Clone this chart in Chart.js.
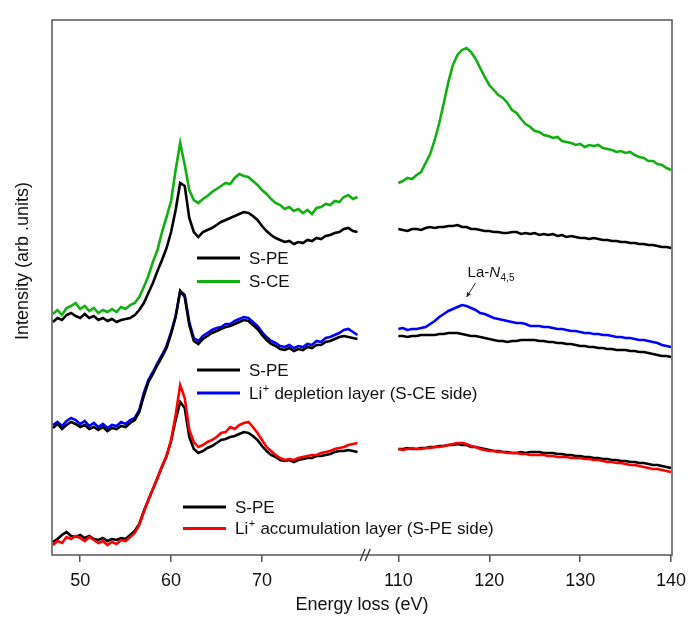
<!DOCTYPE html>
<html>
<head>
<meta charset="utf-8">
<script src="https://cdn.jsdelivr.net/npm/chart.js@4.4.1/dist/chart.umd.min.js"></script>
<style>
  html, body { margin: 0; padding: 0; background: #fff; }
  canvas { display: block; }
</style>
</head>
<body>
<canvas id="eels" width="688" height="624"></canvas>
<script>
// energy loss (eV) for the low-loss window and the La-N window
const energyLow = [
  47, 47.5, 48, 48.5, 49, 49.5, 50, 50.5, 51, 51.5,
  52, 52.5, 53, 53.5, 54, 54.5, 55, 55.5, 56, 56.5,
  57, 57.5, 58, 58.5, 59, 59.5, 60, 60.5, 61, 61.5,
  62, 62.5, 63, 63.5, 64, 64.5, 65, 65.5, 66, 66.5,
  67, 67.5, 68, 68.5, 69, 69.5, 70, 70.5, 71, 71.5,
  72, 72.5, 73, 73.5, 74, 74.5, 75, 75.5, 76, 76.5,
  77, 77.5, 78, 78.5, 79, 79.5, 80, 80.5
];
const energyHigh = [
  110, 110.5, 111, 111.5, 112, 112.5, 113, 113.5, 114, 114.5,
  115, 115.5, 116, 116.5, 117, 117.5, 118, 118.5, 119, 119.5,
  120, 120.5, 121, 121.5, 122, 122.5, 123, 123.5, 124, 124.5,
  125, 125.5, 126, 126.5, 127, 127.5, 128, 128.5, 129, 129.5,
  130, 130.5, 131, 131.5, 132, 132.5, 133, 133.5, 134, 134.5,
  135, 135.5, 136, 136.5, 137, 137.5, 138, 138.5, 139, 139.5,
  140
];

// tick labels shown on the broken axis
const tickLabels = [50, 60, 70, 110, 120, 130, 140];

// top pair: S-PE vs S-CE (arb. units, offset)
const speTopLow = [
  233, 237, 235, 240, 242, 239, 237, 241, 237, 239,
  235, 237, 234, 236, 233, 235, 236, 237, 240, 245,
  252, 262, 272, 284, 295, 307, 323, 345, 372, 369,
  337, 323, 318, 323, 325, 327, 330, 333, 335, 337,
  339, 341, 343, 342, 339, 335, 329, 324, 320, 317,
  315, 313, 314, 311, 313, 312, 315, 314, 317, 316,
  319, 320, 322, 323, 326, 327, 324, 323
];
const speTopHigh = [
  326, 325, 324, 326, 326, 325, 327, 328, 327, 328,
  328, 329, 329, 330, 328, 328, 326, 326, 325, 324,
  324, 323, 323, 322, 322, 323, 323, 321, 322, 321,
  322, 320, 321, 320, 321, 319, 320, 318, 319, 318,
  317, 317, 316, 317, 316, 315, 315, 314, 314, 313,
  313, 312, 312, 311, 311, 310, 310, 309, 308, 308,
  307
];
const sceLow = [
  241, 245, 240, 247, 249, 252, 246, 249, 244, 247,
  242, 245, 243, 246, 243, 248, 246, 250, 252, 258,
  268, 279, 293, 305, 323, 338, 354, 385, 412, 390,
  365, 355, 352, 356, 359, 363, 366, 369, 372, 371,
  377, 381, 379, 378, 374, 370, 365, 361, 356, 352,
  350, 346, 348, 344, 346, 342, 345, 341, 347, 348,
  351, 350, 354, 353, 358, 360, 356, 358
];
const sceHigh = [
  372, 374, 377, 376, 380, 383, 392, 401, 415, 432,
  452, 473, 490, 500, 505, 507, 503, 496, 487, 478,
  470, 465, 460, 457, 452, 445, 442, 436, 431, 428,
  424, 423, 420, 419, 417, 418, 414, 413, 412, 410,
  411, 408, 410, 409, 410, 407, 406, 405, 403, 404,
  402, 403, 400, 398, 397, 394, 394, 391, 390, 387,
  385
];

// middle pair: S-PE vs Li+ depletion layer
const speMidLow = [
  127, 131, 126, 130, 133, 131, 128, 130, 126, 128,
  125, 128, 124, 127, 126, 129, 128, 132, 135, 143,
  159, 173, 181, 190, 198, 207, 221, 238, 264, 258,
  230, 214, 211, 216, 219, 222, 224, 226, 228, 229,
  231, 233, 235, 234, 230, 226, 220, 215, 211, 209,
  206, 205, 207, 204, 206, 205, 208, 207, 210, 210,
  213, 214, 216, 218, 219, 218, 217, 216
];
const speMidHigh = [
  219, 219, 218, 219, 219, 220, 220, 220, 220, 221,
  221, 222, 222, 222, 221, 220, 219, 219, 218, 217,
  216, 215, 214, 214, 213, 214, 214, 215, 215, 215,
  215, 214, 214, 213, 213, 212, 212, 211, 211, 210,
  209, 209, 208, 208, 207, 207, 206, 206, 205, 205,
  205, 204, 204, 203, 203, 202, 201, 200, 199, 199,
  198
];
const depletionLow = [
  130, 133, 129, 134, 137, 135, 131, 134, 129, 132,
  128, 131, 127, 130, 129, 133, 131, 135, 137, 145,
  162, 175, 183, 192, 200, 209, 223, 239, 264, 260,
  233, 217, 214, 219, 222, 225, 227, 228, 231, 231,
  234, 236, 238, 237, 233, 229, 223, 218, 214, 212,
  209, 208, 210, 207, 209, 208, 211, 210, 214, 213,
  217, 218, 220, 222, 225, 226, 223, 220
];
const depletionHigh = [
  226, 227, 225, 226, 226, 227, 228, 231, 234, 238,
  241, 244, 246, 248, 250, 249, 247, 245, 242, 241,
  239, 237, 236, 235, 234, 233, 232, 232, 231, 229,
  229, 229, 228, 228, 227, 226, 226, 225, 224, 224,
  223, 222, 222, 221, 221, 220, 220, 219, 218, 218,
  217, 217, 216, 215, 215, 214, 213, 212, 210, 209,
  208
];

// bottom pair: S-PE vs Li+ accumulation layer
const speBotLow = [
  13, 16, 20, 23, 19, 18, 20, 17, 19, 16,
  15, 17, 14, 16, 15, 17, 16, 20, 24, 31,
  44, 55, 66, 77, 88, 99, 114, 135, 153, 147,
  118, 106, 102, 104, 107, 109, 112, 115, 116, 118,
  119, 121, 123, 122, 119, 115, 109, 104, 100, 98,
  95, 94, 95, 93, 95, 96, 97, 97, 99, 99,
  100, 101, 103, 104, 104, 105, 104, 103
];
const speBotHigh = [
  106, 106, 107, 106, 106, 107, 107, 108, 108, 109,
  109, 110, 110, 111, 110, 110, 108, 108, 107, 106,
  105, 104, 104, 103, 103, 102, 102, 103, 102, 103,
  103, 103, 102, 102, 102, 101, 101, 100, 100, 99,
  99, 98, 98, 97, 97, 96, 96, 95, 95, 94,
  94, 93, 93, 92, 92, 91, 90, 90, 89, 88,
  87
];
const accumulationLow = [
  10, 14, 12, 18, 16, 19, 17, 14, 18, 15,
  12, 14, 10, 13, 11, 15, 14, 18, 22, 30,
  43, 55, 66, 77, 89, 99, 115, 140, 170, 157,
  125, 113, 108, 110, 113, 115, 118, 122, 123, 128,
  126, 130, 132, 133, 128, 122, 115, 108, 104, 100,
  97, 95, 96, 95, 97, 98, 99, 100, 100, 102,
  103, 104, 106, 107, 108, 110, 111, 112
];
const accumulationHigh = [
  106, 105, 106, 107, 106, 106, 107, 107, 108, 108,
  109, 110, 111, 112, 112, 111, 109, 108, 106, 105,
  104, 104, 103, 103, 102, 102, 102, 101, 101, 100,
  100, 100, 100, 99, 99, 98, 98, 98, 97, 97,
  97, 96, 96, 95, 95, 94, 93, 93, 92, 92,
  91, 90, 90, 89, 88, 87, 86, 86, 85, 84,
  83
];

// the axis skips 81.4 .. 106.4 eV
const BREAK_AT = 81.4;
const GAP = 25;
const toAxis = e => (e > BREAK_AT ? e - GAP : e);
const fromAxis = v => (v > BREAK_AT ? v + GAP : v);

function series(low, high) {
  const pts = energyLow.map((e, i) => ({ x: toAxis(e), y: low[i] }));
  pts.push({ x: BREAK_AT, y: null });
  energyHigh.forEach((e, i) => pts.push({ x: toAxis(e), y: high[i] }));
  return pts;
}

const FONT = "'Liberation Sans', Arial, sans-serif";
const AXIS_COLOR = '#555';

const datasets = [
  { label: 'S-PE', data: series(speTopLow, speTopHigh), borderColor: '#000000' },
  { label: 'S-CE', data: series(sceLow, sceHigh), borderColor: '#10b010' },
  { label: 'S-PE', data: series(speMidLow, speMidHigh), borderColor: '#000000' },
  { label: 'Li⁺ depletion layer (S-CE side)', data: series(depletionLow, depletionHigh), borderColor: '#0000ff' },
  { label: 'Li⁺ accumulation layer (S-PE side)', data: series(accumulationLow, accumulationHigh), borderColor: '#ff0000' },
  { label: 'S-PE', data: series(speBotLow, speBotHigh), borderColor: '#000000' }
];

// draws "Li⁺ ..." with a raised plus
function drawLabel(ctx, text, x, y, size) {
  const parts = text.split('⁺');
  ctx.font = size + 'px ' + FONT;
  ctx.fillText(parts[0], x, y);
  if (parts.length < 2) return;
  x += ctx.measureText(parts[0]).width;
  ctx.font = Math.round(size * 0.62) + 'px ' + FONT;
  ctx.fillText('+', x + 0.5, y - size * 0.3);
  x += ctx.measureText('+').width + 1;
  ctx.font = size + 'px ' + FONT;
  ctx.fillText(parts[1], x, y);
}

const legendGroups = [
  { items: [0, 1], x: 197, y: 258, step: 23.5 },
  { items: [2, 3], x: 197, y: 370, step: 23 },
  { items: [5, 4], x: 183, y: 507, step: 21.5 }
];

const decorations = {
  id: 'decorations',
  afterDraw(chart) {
    const { ctx, chartArea: a, scales } = chart;
    ctx.save();

    // frame
    ctx.strokeStyle = AXIS_COLOR;
    ctx.lineWidth = 1.5;
    ctx.strokeRect(a.left, a.top, a.right - a.left, a.bottom - a.top);

    // axis break mark
    const xb = scales.x.getPixelForValue(BREAK_AT);
    ctx.lineWidth = 1.3;
    ctx.strokeStyle = '#333';
    [-3, 2].forEach(dx => {
      ctx.beginPath();
      ctx.moveTo(xb + dx - 2.5, a.bottom + 6);
      ctx.lineTo(xb + dx + 2.5, a.bottom - 6);
      ctx.stroke();
    });

    // y title
    ctx.fillStyle = '#111';
    ctx.font = '18px ' + FONT;
    ctx.textAlign = 'center';
    ctx.textBaseline = 'middle';
    ctx.save();
    ctx.translate(23, 261);
    ctx.rotate(-Math.PI / 2);
    ctx.fillText('Intensity (arb .units)', 0, 0);
    ctx.restore();

    // legends
    ctx.textAlign = 'left';
    legendGroups.forEach(g => {
      g.items.forEach((idx, k) => {
        const ds = chart.data.datasets[idx];
        const yy = g.y + k * g.step;
        ctx.strokeStyle = ds.borderColor;
        ctx.lineWidth = 3;
        ctx.beginPath();
        ctx.moveTo(g.x, yy);
        ctx.lineTo(g.x + 43, yy);
        ctx.stroke();
        ctx.fillStyle = '#111';
        drawLabel(ctx, ds.label, g.x + 52, yy + 1, 17);
      });
    });

    // La-N4,5 annotation pointing at the blue peak
    const tipX = scales.x.getPixelForValue(toAxis(117.5));
    const tipY = scales.y.getPixelForValue(258);
    const fromX = tipX + 9, fromY = tipY - 14;
    ctx.strokeStyle = '#222';
    ctx.lineWidth = 1;
    ctx.beginPath();
    ctx.moveTo(fromX, fromY);
    ctx.lineTo(tipX, tipY);
    ctx.stroke();
    const ang = Math.atan2(tipY - fromY, tipX - fromX);
    ctx.beginPath();
    ctx.moveTo(tipX, tipY);
    ctx.lineTo(tipX - 5 * Math.cos(ang - 0.45), tipY - 5 * Math.sin(ang - 0.45));
    ctx.lineTo(tipX - 5 * Math.cos(ang + 0.45), tipY - 5 * Math.sin(ang + 0.45));
    ctx.closePath();
    ctx.fillStyle = '#222';
    ctx.fill();

    ctx.fillStyle = '#111';
    ctx.textBaseline = 'alphabetic';
    let tx = fromX - 8;
    const ty = fromY - 6;
    ctx.font = '15px ' + FONT;
    ctx.fillText('La-', tx, ty);
    tx += ctx.measureText('La-').width;
    ctx.font = 'italic 15px ' + FONT;
    ctx.fillText('N', tx, ty);
    tx += ctx.measureText('N').width;
    ctx.font = '10px ' + FONT;
    ctx.fillText('4,5', tx + 0.5, ty + 4);

    ctx.restore();
  }
};

new Chart(document.getElementById('eels'), {
  type: 'line',
  data: { datasets },
  options: {
    responsive: false,
    animation: false,
    layout: { padding: { top: 20, right: 16, left: 52, bottom: 0 } },
    elements: {
      point: { radius: 0 },
      line: { borderWidth: 2.6, tension: 0, fill: false }
    },
    plugins: {
      legend: { display: false },
      tooltip: { enabled: false }
    },
    scales: {
      x: {
        type: 'linear',
        min: 46.9,
        max: 115.1,
        afterBuildTicks: scale => {
          scale.ticks = tickLabels.map(v => ({ value: toAxis(v) }));
        },
        afterFit: scale => {
          scale.height = 69;
          scale.paddingLeft = 0;
          scale.paddingRight = 0;
        },
        ticks: {
          autoSkip: false,
          maxRotation: 0,
          padding: 8,
          color: '#111',
          font: { family: FONT, size: 18 },
          callback: v => String(fromAxis(v))
        },
        grid: {
          drawOnChartArea: false,
          tickLength: 7,
          color: AXIS_COLOR,
          lineWidth: 1.5
        },
        border: { display: false },
        title: {
          display: true,
          text: 'Energy loss (eV)',
          color: '#111',
          font: { family: FONT, size: 18 },
          padding: { top: 0, bottom: 8 }
        }
      },
      y: {
        display: false,
        min: 0,
        max: 535
      }
    }
  },
  plugins: [decorations]
});
</script>
</body>
</html>
